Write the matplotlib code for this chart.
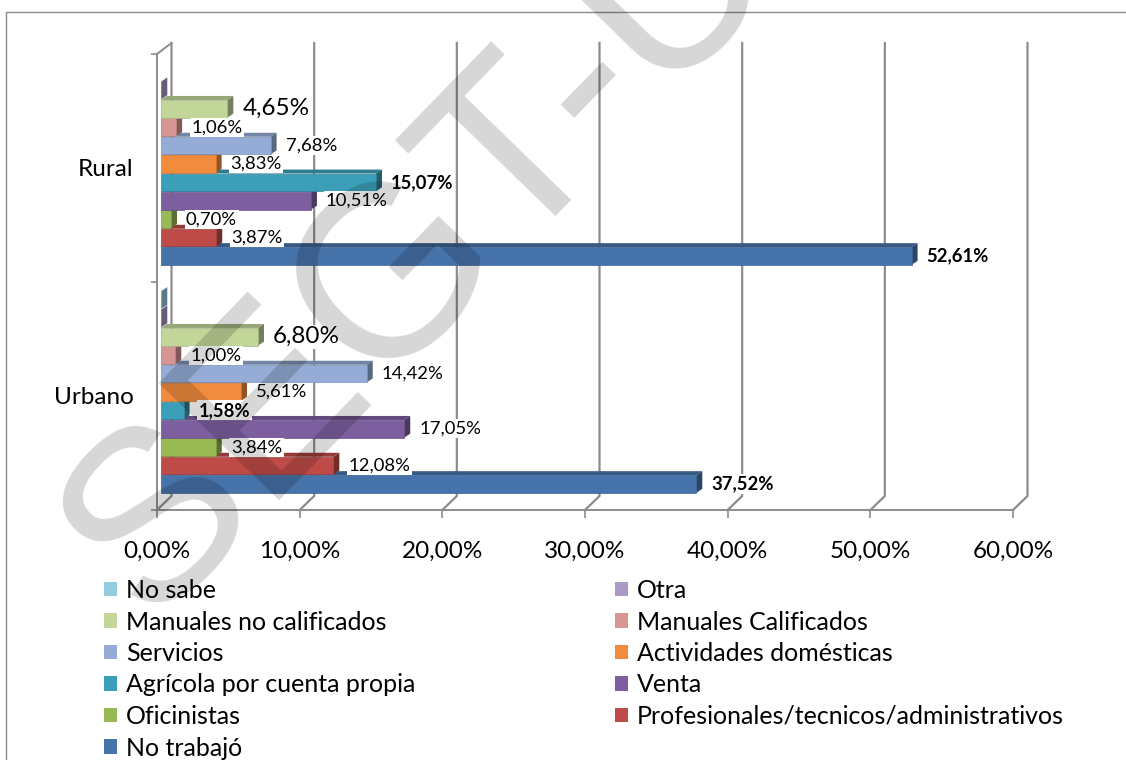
import matplotlib
matplotlib.use('Agg')
import matplotlib.pyplot as plt
from matplotlib.patches import Polygon, Rectangle, Patch
from matplotlib.colors import to_rgb

plt.rcParams['font.family'] = ['Lato', 'DejaVu Sans']

# ---------------- data ----------------
categories = ['Urbano', 'Rural']
series = ['No trabajó', 'Profesionales/tecnicos/administrativos', 'Oficinistas', 'Venta',
          'Agrícola por cuenta propia', 'Actividades domésticas', 'Servicios',
          'Manuales Calificados', 'Manuales no calificados', 'Otra', 'No sabe']
urbano = [37.52, 12.08, 3.84, 17.05, 1.58, 5.61, 14.42, 1.00, 6.80, 0.02, 0.02]
rural = [52.61, 3.87, 0.70, 10.51, 15.07, 3.83, 7.68, 1.06, 4.65, 0.02, 0.00]
colors = ['#4673AA', '#BE4B48', '#98B954', '#7D5FA0', '#3C9FB9', '#F18C3F',
          '#94ACD6', '#D79593', '#C2D69A', '#AB9AC5', '#93CDDD']
xticks = [0, 10, 20, 30, 40, 50, 60]
xtick_labels = ['0,00%', '10,00%', '20,00%', '30,00%', '40,00%', '50,00%', '60,00%']
bold_labels = [('Urbano', 'Agrícola por cuenta propia'), ('Urbano', 'No trabajó'),
               ('Rural', 'Agrícola por cuenta propia'), ('Rural', 'No trabajó')]
large_labels = [('Urbano', 'Manuales no calificados'), ('Rural', 'Manuales no calificados')]
legend_col1 = ['No sabe', 'Manuales no calificados', 'Servicios', 'Agrícola por cuenta propia',
               'Oficinistas', 'No trabajó']
legend_col2 = ['Otra', 'Manuales Calificados', 'Actividades domésticas', 'Venta',
               'Profesionales/tecnicos/administrativos']
watermark = 'SEGT-U'

# ---------------- layout ----------------
W, H = 1126, 760
GRAY = '#8c8c8c'
fig = plt.figure(figsize=(W / 100, H / 100), dpi=100)
ax = fig.add_axes([157 / W, 1 - 510 / H, 856 / W, 456 / H])
ax.set_xlim(0, 60)
ax.set_ylim(-0.5, 1.5)
kx = 60 / 856.0   # data units per pixel
ky = 2 / 456.0

def shade(c, f):
    r, g, b = to_rgb(c)
    return (r * f, g * f, b * f)

for s in ['top', 'right']:
    ax.spines[s].set_visible(False)
for s in ['left', 'bottom']:
    ax.spines[s].set_color(GRAY)
    ax.spines[s].set_linewidth(1.4)

ax.set_xticks(xticks, xtick_labels, fontsize=17.5)
ax.tick_params(axis='x', length=5.8, width=1.2, color=GRAY, pad=16.5)
ax.set_yticks([0, 1], categories, fontsize=17.5)
ax.tick_params(axis='y', which='major', length=0, pad=17)
ax.set_yticks([-0.5, 0.5, 1.5], minor=True)
ax.tick_params(axis='y', which='minor', length=4.3, width=1.2, color=GRAY)

# back wall / floor lines (pseudo 3D)
Wx, Wy = 14.5 * kx, 14 * ky
top_back = 1.5 + 11 * ky
for v in xticks:
    ax.plot([v + Wx, v + Wx, v], [top_back, -0.5 + Wy, -0.5], color=GRAY, lw=1.6,
            clip_on=False, zorder=1, solid_joinstyle='miter')
ax.plot([0, Wx], [1.5, top_back], color=GRAY, lw=1.4, clip_on=False, zorder=1)

# bars
p = 18.4 * ky
h = p * 0.96
Bx, By = 4 * kx, 4 * ky
Dx, Dy = 6 * kx, 4 * ky
for ci, (cat, vals) in enumerate(zip(categories, [urbano, rural])):
    for i, v in enumerate(vals):
        if v <= 0:
            continue
        col = colors[i]
        yc = ci + (i - 5) * p + By
        y0, y1 = yc - h / 2, yc + h / 2
        z = 2 + i * 0.01
        ax.add_patch(Polygon([(Bx, y1), (Bx + v, y1), (Bx + v + Dx, y1 + Dy), (Bx + Dx, y1 + Dy)],
                             closed=True, fc=shade(col, 0.78), ec='none', zorder=z))
        ax.add_patch(Polygon([(Bx + v, y0), (Bx + v + Dx, y0 + Dy), (Bx + v + Dx, y1 + Dy), (Bx + v, y1)],
                             closed=True, fc=shade(col, 0.6), ec='none', zorder=z))
        ax.barh(yc, v, height=h, left=Bx, color=col, edgecolor=shade(col, 0.85),
                linewidth=0.5, zorder=z)
        if v >= 0.5:
            txt = f'{v:.2f}'.replace('.', ',') + '%'
            big = (cat, series[i]) in large_labels
            bold = (cat, series[i]) in bold_labels
            ax.text(Bx + v + Dx + 9 * kx, yc, txt, ha='left', va='center',
                    fontsize=17.5 if big else 13.3, fontweight='bold' if bold else 'normal',
                    color='black', zorder=5,
                    bbox=dict(facecolor='white', edgecolor='none', pad=1.0))

# legend (two columns, row-major order as in the original)
h1 = [Patch(facecolor=colors[series.index(n)]) for n in legend_col1]
h2 = [Patch(facecolor=colors[series.index(n)]) for n in legend_col2]
common = dict(loc='upper left', frameon=False, fontsize=18, handlelength=0.52,
              handleheight=0.52, handletextpad=0.36, labelspacing=0.34,
              borderpad=0, borderaxespad=0)
leg1 = fig.legend(h1, legend_col1, bbox_to_anchor=(104 / W, 1 - 579 / H), **common)
leg2 = fig.legend(h2, legend_col2, bbox_to_anchor=(615 / W, 1 - 579 / H), **common)

# outer frame
fig.add_artist(Rectangle((6 / W, -0.1), 1.2, 1 - 12 / H + 0.1, transform=fig.transFigure,
                         fill=False, ec=GRAY, lw=1.0))

# watermark
fig.text(149 / W, 1 - 623 / H, watermark, rotation=45.8, rotation_mode='anchor',
         ha='left', va='baseline', fontsize=176, color='black', alpha=0.16,
         family='Liberation Sans', zorder=50)

fig.savefig('out.png', dpi=100)
